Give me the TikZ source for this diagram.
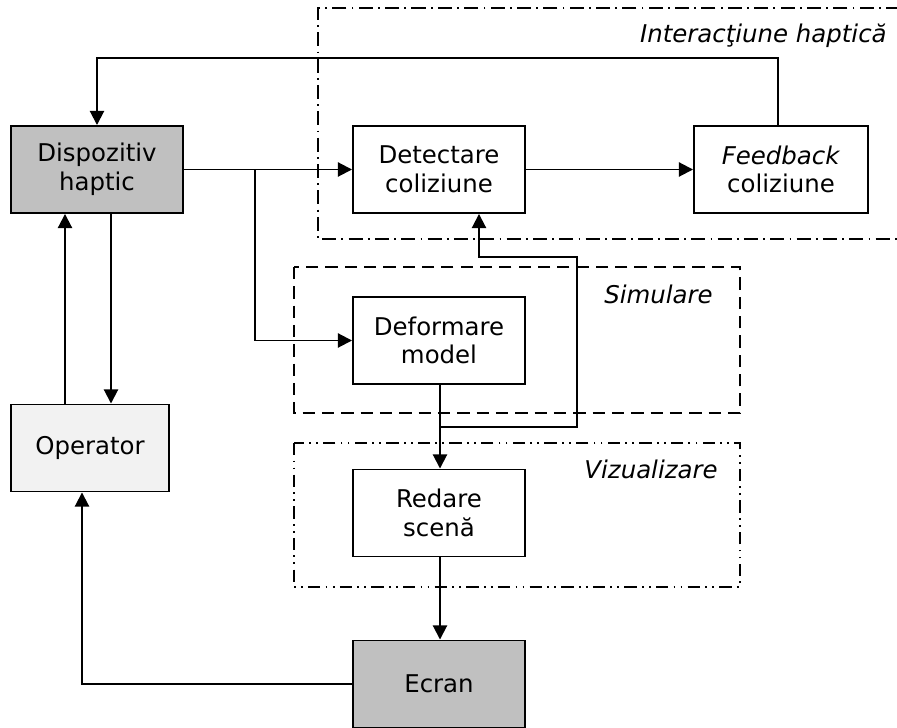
\documentclass[tikz,border=0pt]{standalone}
\usepackage{fontspec}
\setmainfont{DejaVu Sans}
\usetikzlibrary{arrows.meta}
\definecolor{devgray}{HTML}{C0C0C0}
\definecolor{oplight}{HTML}{F2F2F2}

\begin{document}
\begin{tikzpicture}[
	font=\fontsize{13.9}{16.2}\selectfont,
	blk/.style={draw, line width=1.1pt, align=center, inner sep=0pt, minimum width=3.44cm, minimum height=1.74cm},
	arr/.style={line width=1.1pt, -{Triangle[length=8pt,width=8pt]}},
	grp/.style={line width=1.1pt},
	lbl/.style={font=\fontsize{13.9}{16.2}\selectfont\itshape, anchor=east, inner sep=0pt}]
	\useasboundingbox (0,0) rectangle (17.94,-14.56);
	
	% grupuri
	\draw[grp, dash pattern=on 8pt off 3pt on 1pt off 3pt] (18,-0.16) -- (6.36,-0.16) -- (6.36,-4.78) -- (18,-4.78);
	\draw[grp, dash pattern=on 7pt off 4pt] (5.88,-5.34) rectangle (14.80,-8.26);
	\draw[grp, dash pattern=on 7pt off 3pt on 1pt off 3pt on 1pt off 3pt] (5.88,-8.86) rectangle (14.80,-11.74);
	\node[lbl] (lint) at (17.74,-0.72) {Interacţiune haptică};
	\node[lbl] (lsim) at (14.26,-5.88) {Simulare};
	\node[lbl] (lviz) at (14.36,-9.38) {Vizualizare};
	
	% blocuri
	\node[blk, fill=devgray] (disp) at (1.94,-3.39) {Dispozitiv\\haptic};
	\node[blk, fill=oplight, minimum width=3.16cm] (op) at (1.80,-8.96) {Operator};
	\node[blk, fill=white] (det) at (8.78,-3.39) {Detectare\\coliziune};
	\node[blk, fill=white, minimum width=3.48cm] (fb) at (15.62,-3.39) {\textit{Feedback}\\coliziune};
	\node[blk, fill=white] (def) at (8.78,-6.81) {Deformare\\model};
	\node[blk, fill=white] (red) at (8.78,-10.26) {Redare\\scenă};
	\node[blk, fill=devgray] (ecr) at (8.78,-13.68) {Ecran};
	
	% legaturi
	\coordinate (top) at (15.56,-1.16);
	\coordinate (br) at (5.10,-3.39);
	\coordinate (lp) at (8.80,-8.54);
	\coordinate (lpr) at (11.54,-5.14);
	\draw[arr] (fb.north -| top) -- (top) -| (disp.north);
	\draw[arr] (disp.east) -- (det.west);
	\draw[arr] (det.east) -- (fb.west);
	\draw[arr] (br) |- (def.west);
	\draw[arr] ([xshift=0.28cm]disp.south) -- ([xshift=0.28cm]disp.south |- op.north);
	\draw[arr] ([xshift=-0.64cm]disp.south |- op.north) -- ([xshift=-0.64cm]disp.south);
	\draw[arr] (def.south -| lp) -- (red.north -| lp);
	\draw[arr] (lp) -| (lpr) -| ([xshift=0.8cm]det.south);
	\draw[arr] (red.south -| lp) -- (ecr.north -| lp);
	\draw[arr] (ecr.west) -| ([xshift=-0.16cm]op.south);
\end{tikzpicture}
\end{document}
